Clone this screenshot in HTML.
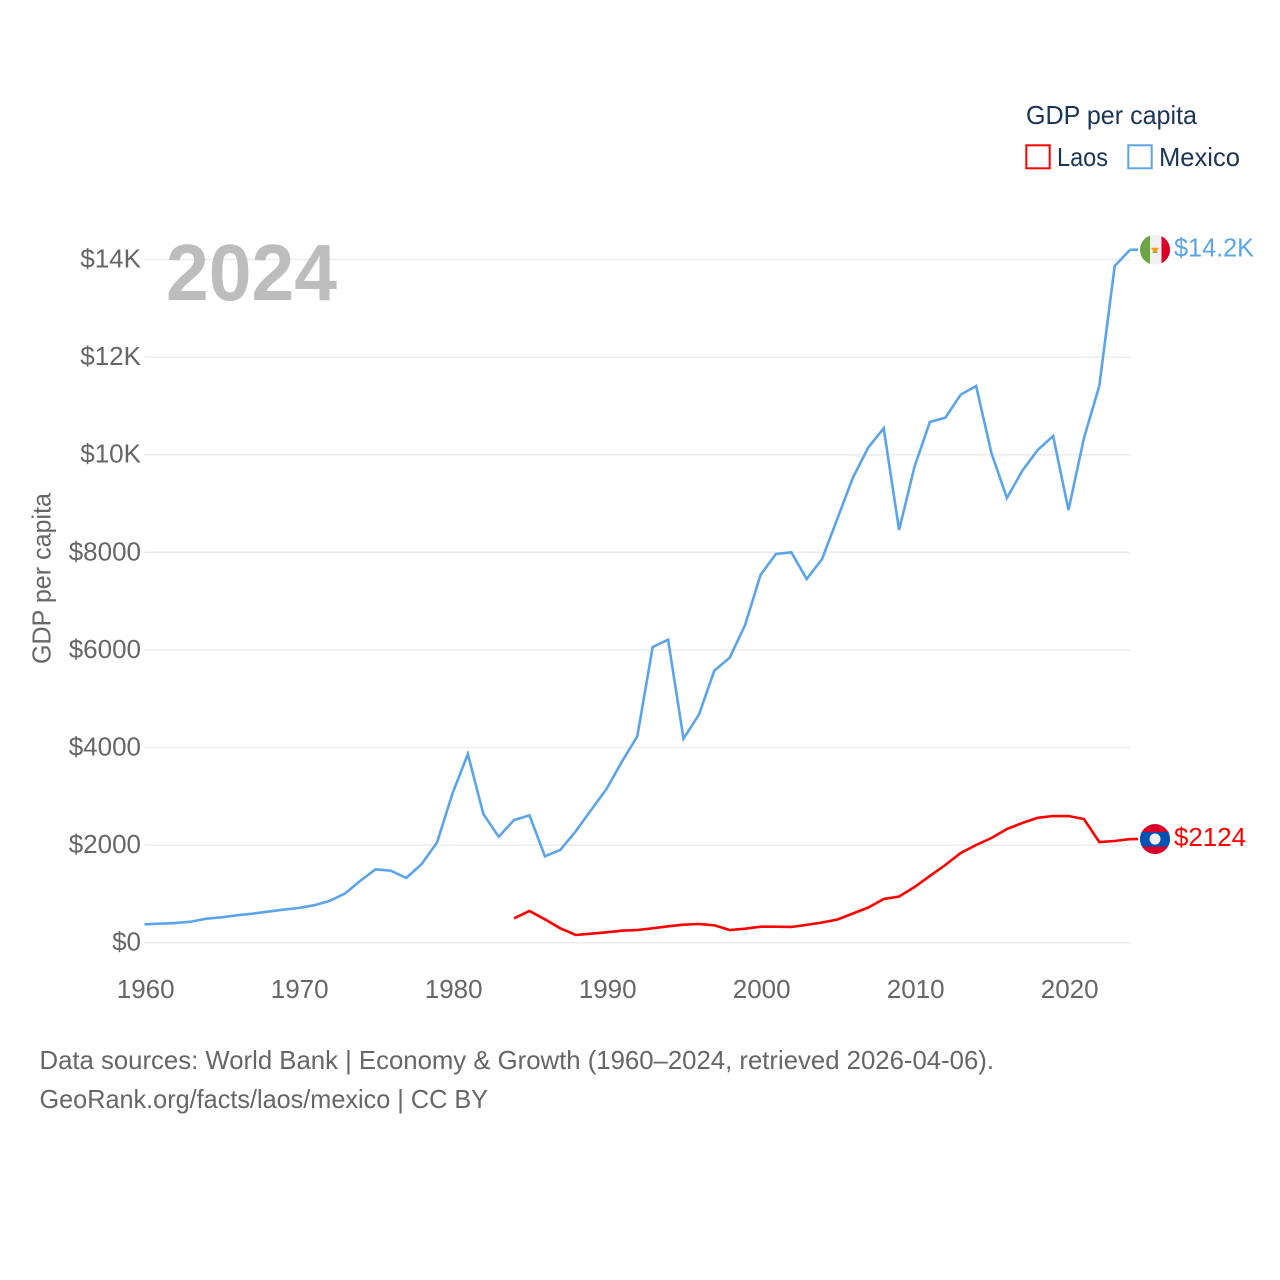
<!DOCTYPE html>
<html lang="en">
<head>
<meta charset="utf-8">
<title>GDP per capita: Laos and Mexico</title>
<style>
  html, body { margin: 0; padding: 0; background: #fff; }
  svg { display: block; font-family: "Liberation Sans", "DejaVu Sans", sans-serif; }
</style>
</head>
<body>
<svg id="chart" width="1280" height="1280" viewBox="0 0 1280 1280" xmlns="http://www.w3.org/2000/svg">
  <defs>
    <clipPath id="flag-clip"><circle cx="0" cy="0" r="15"></circle></clipPath>
  </defs>
  <rect x="0" y="0" width="1280" height="1280" fill="#ffffff"></rect>

  <g id="grid"></g>
  <g id="y-ticks"></g>
  <g id="x-ticks"></g>

  <text x="166" y="300" font-size="80" font-weight="700" fill="#bdbdbd" textLength="171" lengthAdjust="spacingAndGlyphs">2024</text>
  <text transform="translate(50.5 578.5) rotate(-90)" text-anchor="middle" font-size="26" fill="#666666" textLength="171" lengthAdjust="spacingAndGlyphs">GDP per capita</text>

  <g id="series"></g>
  <g id="end-markers"></g>

  <g>
    <text x="1026" y="124" font-size="26" fill="#1b3556" textLength="171" lengthAdjust="spacingAndGlyphs">GDP per capita</text>
    <g>
      <rect x="1026.3" y="145.3" width="23.4" height="23" fill="none" stroke="#ff0000" stroke-width="2"></rect>
      <text x="1057" y="166" font-size="26" fill="#1b3556" textLength="51" lengthAdjust="spacingAndGlyphs">Laos</text>
    </g>
    <g>
      <rect x="1128.3" y="145.3" width="23.4" height="23" fill="none" stroke="#5ba4ea" stroke-width="2"></rect>
      <text x="1159" y="166" font-size="26" fill="#1b3556" textLength="81" lengthAdjust="spacingAndGlyphs">Mexico</text>
    </g>
  </g>

  <text x="39.5" y="1069" font-size="26" fill="#666666" textLength="954.5" lengthAdjust="spacingAndGlyphs">Data sources: World Bank | Economy &amp; Growth (1960–2024, retrieved 2026-04-06).</text>
  <text x="39.5" y="1108" font-size="26" fill="#666666" textLength="448.5" lengthAdjust="spacingAndGlyphs">GeoRank.org/facts/laos/mexico | CC BY</text>
</svg>

<script>
const years = [1960,1961,1962,1963,1964,1965,1966,1967,1968,1969,
  1970,1971,1972,1973,1974,1975,1976,1977,1978,1979,
  1980,1981,1982,1983,1984,1985,1986,1987,1988,1989,
  1990,1991,1992,1993,1994,1995,1996,1997,1998,1999,
  2000,2001,2002,2003,2004,2005,2006,2007,2008,2009,
  2010,2011,2012,2013,2014,2015,2016,2017,2018,2019,
  2020,2021,2022,2023,2024];
const mexicoValues = [377,389,403,430,492,520,561,594,635,676,
  711,766,854,1004,1264,1504,1475,1326,1613,2057,
  3060,3867,2637,2172,2514,2610,1770,1900,2283,2719,
  3150,3709,4230,6060,6210,4180,4672,5574,5840,6510,
  7535,7965,8000,7453,7863,8697,9529,10150,10541,8457,
  9754,10670,10758,11230,11408,10029,9113,9672,10096,10383,
  8867,10336,11408,13866,14200];
const laosValues = [null,null,null,null,null,null,null,null,null,null,
  null,null,null,null,null,null,null,null,null,null,
  null,null,null,null,500,650,479,295,158,184,
  213,246,260,295,336,369,383,357,260,287,
  328,328,322,365,414,475,598,721,895,947,
  1141,1367,1592,1838,2002,2145,2330,2453,2559,2596,
  2596,2535,2063,2084,2124];
const yTickValues = [0,2000,4000,6000,8000,10000,12000,14000];
const yTickLabels = ["$0","$2000","$4000","$6000","$8000","$10K","$12K","$14K"];
const xTickValues = [1960,1970,1980,1990,2000,2010,2020];

const SVG_NS = "http://www.w3.org/2000/svg";
function xScale(year) { return 144.5 + (year - 1960) * 15.4; }
function yScale(value) { return 942.7 - value * 0.0488; }
function make(tag, parent) {
  const el = document.createElementNS(SVG_NS, tag);
  parent.appendChild(el);
  return el;
}
function formatValue(value) {
  if (value >= 10000) return "$" + (Math.round(value / 100) / 10) + "K";
  return "$" + Math.round(value);
}
function linePath(values) {
  let d = "";
  values.forEach(function (v, i) {
    if (v === null) return;
    d += (d ? "L" : "M") + xScale(years[i]).toFixed(2) + " " + yScale(v).toFixed(2);
  });
  return d;
}

const gridGroup = document.getElementById("grid");
const yTickGroup = document.getElementById("y-ticks");
yTickValues.forEach(function (v, i) {
  const line = make("line", gridGroup);
  
  
  line.setAttribute("x1", xScale(1960));
  line.setAttribute("x2", xScale(2024));
  line.setAttribute("y1", yScale(v));
  line.setAttribute("y2", yScale(v));
  line.setAttribute("stroke", "#ececec");
  line.setAttribute("stroke-width", "1.5");

  const label = make("text", yTickGroup);
  
  
  label.setAttribute("x", 141);
  label.setAttribute("y", yScale(v) + 8);
  label.setAttribute("text-anchor", "end");
  label.setAttribute("font-size", "26");
  label.setAttribute("fill", "#666666");
  label.textContent = yTickLabels[i];
});

const xTickGroup = document.getElementById("x-ticks");
xTickValues.forEach(function (year) {
  const label = make("text", xTickGroup);
  
  
  label.setAttribute("x", xScale(year) + 1.2);
  label.setAttribute("y", 998);
  label.setAttribute("text-anchor", "middle");
  label.setAttribute("font-size", "26");
  label.setAttribute("fill", "#666666");
  label.textContent = String(year);
});

const seriesGroup = document.getElementById("series");
const mexicoLine = make("path", seriesGroup);


mexicoLine.setAttribute("d", linePath(mexicoValues));
mexicoLine.setAttribute("fill", "none");
mexicoLine.setAttribute("stroke", "#5ba4ea");
mexicoLine.setAttribute("stroke-width", "2.6");
mexicoLine.setAttribute("stroke-linejoin", "miter");

const laosLine = make("path", seriesGroup);


laosLine.setAttribute("d", linePath(laosValues));
laosLine.setAttribute("fill", "none");
laosLine.setAttribute("stroke", "#ff0000");
laosLine.setAttribute("stroke-width", "2.6");
laosLine.setAttribute("stroke-linejoin", "miter");

const markerGroup = document.getElementById("end-markers");
const lastX = xScale(years[years.length - 1]);

function addStub(value, color) {
  const stub = make("line", markerGroup);
  
  
  stub.setAttribute("x1", lastX);
  stub.setAttribute("x2", lastX + 8);
  stub.setAttribute("y1", yScale(value));
  stub.setAttribute("y2", yScale(value));
  stub.setAttribute("stroke", color);
  stub.setAttribute("stroke-width", "2.6");
}
function addRect(parent, x, y, w, h, fill) {
  const r = make("rect", parent);
  
  
  r.setAttribute("x", x);
  r.setAttribute("y", y);
  r.setAttribute("width", w);
  r.setAttribute("height", h);
  r.setAttribute("fill", fill);
}
function addValueLabel(value, color, width) {
  const label = make("text", markerGroup);
  
  
  label.setAttribute("x", 1174);
  label.setAttribute("y", yScale(value) + 7);
  label.setAttribute("font-size", "26");
  label.setAttribute("fill", color);
  label.setAttribute("textLength", width);
  label.setAttribute("lengthAdjust", "spacingAndGlyphs");
  label.textContent = formatValue(value);
}

const mexicoLast = mexicoValues[mexicoValues.length - 1];
addStub(mexicoLast, "#5ba4ea");
const mexicoFlag = make("g", markerGroup);


mexicoFlag.setAttribute("transform", "translate(1155 " + yScale(mexicoLast) + ")");
mexicoFlag.setAttribute("clip-path", "url(#flag-clip)");
addRect(mexicoFlag, -15, -15, 30, 30, "#f0f0f0");
addRect(mexicoFlag, -15, -15, 10, 30, "#6da544");
addRect(mexicoFlag, 6.5, -15, 9, 30, "#d80027");
const emblem = make("path", mexicoFlag);


emblem.setAttribute("d", "M-4 -2 L4 -2 L1.5 2 L-1.5 2 Z");
emblem.setAttribute("fill", "#ff9811");
const emblemBase = make("path", mexicoFlag);


emblemBase.setAttribute("d", "M-3 2 A3.5 3 0 0 0 3 2 Z");
emblemBase.setAttribute("fill", "#6da544");
addValueLabel(mexicoLast, "#5ba4ea", 80);

const laosLast = laosValues[laosValues.length - 1];
addStub(laosLast, "#ff0000");
const laosFlag = make("g", markerGroup);


laosFlag.setAttribute("transform", "translate(1155 " + yScale(laosLast) + ")");
laosFlag.setAttribute("clip-path", "url(#flag-clip)");
addRect(laosFlag, -15, -15, 30, 30, "#d80027");
addRect(laosFlag, -15, -7, 30, 14.5, "#0052b4");
const laosDisc = make("circle", laosFlag);


laosDisc.setAttribute("cx", 0);
laosDisc.setAttribute("cy", 0);
laosDisc.setAttribute("r", 5.5);
laosDisc.setAttribute("fill", "#f0f0f0");
addValueLabel(laosLast, "#ff0000", 72);
</script>
</body>
</html>
